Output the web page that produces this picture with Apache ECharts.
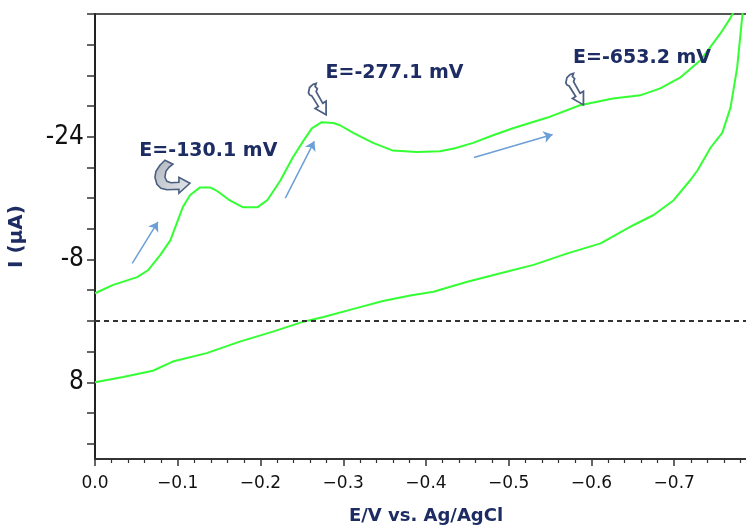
<!DOCTYPE html>
<html><head><meta charset="utf-8">
<script src="https://cdn.jsdelivr.net/npm/echarts@6/dist/echarts.min.js"></script>
<style>html,body{margin:0;padding:0;background:#fff}#c{width:746px;height:532px}</style>
</head><body><div id="c"></div>
<script>
// Forward scan (upper branch), E in V, I in µA
const forwardE = [0.000,-0.022,-0.051,-0.064,-0.079,-0.091,-0.106,-0.115,-0.127,-0.139,-0.148,-0.163,-0.179,-0.196,-0.208,-0.224,-0.239,-0.252,-0.262,-0.274,-0.288,-0.296,-0.312,-0.336,-0.360,-0.389,-0.417,-0.435,-0.457,-0.481,-0.505,-0.547,-0.586,-0.626,-0.659,-0.683,-0.707,-0.732,-0.756,-0.768,-0.786];
const forwardI = [-3.6,-4.7,-5.7,-6.6,-8.6,-10.5,-14.8,-16.4,-17.4,-17.4,-16.9,-15.7,-14.8,-14.8,-15.7,-18.3,-21.3,-23.5,-25.1,-25.9,-25.8,-25.5,-24.5,-23.2,-22.2,-22.0,-22.1,-22.5,-23.2,-24.2,-25.1,-26.5,-28.1,-29.0,-29.4,-30.3,-31.7,-34.0,-37.5,-39.5,-43.1];
// Reverse scan (lower branch)
const reverseE = [-0.782,-0.776,-0.768,-0.758,-0.744,-0.728,-0.719,-0.699,-0.675,-0.651,-0.611,-0.571,-0.530,-0.490,-0.450,-0.409,-0.381,-0.348,-0.317,-0.276,-0.252,-0.215,-0.175,-0.135,-0.094,-0.070,-0.034,0.000];
const reverseI = [-39.5,-33.0,-27.8,-24.5,-22.6,-19.6,-18.3,-15.7,-13.8,-12.5,-10.1,-8.8,-7.3,-6.2,-5.1,-3.8,-3.3,-2.6,-1.7,-0.5,0.1,1.4,2.7,4.2,5.3,6.5,7.3,8.0];

const yTickValues = [-40,-36,-32,-28,-24,-20,-16,-12,-8,-4,0,4,8,12,16];
const yLabelValues = [-24,-8,8];

const annotationTexts = ['E=-130.1 mV','E=-277.1 mV','E=-653.2 mV'];
const annotationE = [-0.137,-0.362,-0.661];
const annotationI = [-22.2,-32.3,-34.2];

const arrowStartE = [-0.045,-0.230,-0.458];
const arrowStartI = [-7.5,-16.0,-21.3];
const arrowEndE = [-0.076,-0.265,-0.553];
const arrowEndI = [-12.9,-23.4,-24.3];

const curvedAnchorE = [-0.070,-0.254,-0.565];
const curvedAnchorI = [-21.2,-31.1,-32.4];

const cvData = [];
forwardE.forEach((e,i)=>cvData.push([e,forwardI[i]]));
reverseE.forEach((e,i)=>cvData.push([e,reverseI[i]]));

const navy = '#1d2c63';
const chart = echarts.init(document.getElementById('c'));
chart.setOption({
  animation:false,
  backgroundColor:'#fff',
  grid:{left:95,top:14,right:-11,bottom:73,show:true,borderColor:'#555',borderWidth:2,
        containLabel:false,outerBoundsMode:'none'},
  xAxis:{
    type:'value',min:-0.8,max:0,interval:0.1,inverse:true,
    name:'E/V vs. Ag/AgCl',nameLocation:'middle',nameGap:48,
    nameTextStyle:{color:navy,fontFamily:'DejaVu Sans',fontWeight:'bold',fontSize:18},
    axisLine:{onZero:false,lineStyle:{color:'#333',width:2}},
    axisTick:{length:7,lineStyle:{color:'#333',width:1.5}},
    minorTick:{show:true,splitNumber:5,length:4,lineStyle:{color:'#333',width:1.2}},
    splitLine:{show:false},
    axisLabel:{margin:16,color:'#111',fontFamily:'DejaVu Sans',fontSize:17,
      formatter:v=>{ if(v<-0.75) return ''; if(Math.abs(v)<1e-9) return '0.0'; return '\u2212'+Math.abs(v).toFixed(1);}}
  },
  yAxis:{
    type:'value',min:-40,max:18,inverse:true,
    name:'I (\u03bcA)',nameLocation:'middle',nameGap:68,nameRotate:90,
    nameTextStyle:{color:navy,fontFamily:'DejaVu Sans',fontWeight:'bold',fontSize:20},
    axisLine:{onZero:false,lineStyle:{color:'#222',width:2}},
    axisTick:{length:8,customValues:yTickValues,lineStyle:{color:'#333',width:1.5}},
    splitLine:{show:false},
    axisLabel:{customValues:yLabelValues,margin:11,color:'#111',
      fontFamily:'Liberation Sans Narrow, DejaVu Sans Condensed, Liberation Sans',fontSize:26,
      formatter:v=>String(v)}
  },
  series:[
    {type:'line',data:cvData,showSymbol:false,symbol:'none',clip:true,
     lineStyle:{color:'#33ff33',width:2},itemStyle:{color:'#33ff33'},z:3,
     markLine:{silent:true,symbol:['none','none'],label:{show:false},
       lineStyle:{color:'#333',type:[5,4],width:2},data:[{yAxis:0}]},
     markPoint:{symbol:'rect',symbolSize:1,itemStyle:{color:'rgba(0,0,0,0)'},
       label:{show:true,position:'inside',color:navy,fontFamily:'DejaVu Sans',fontWeight:'bold',fontSize:19,formatter:p=>p.name},
       data:annotationTexts.map((t,i)=>({name:t,coord:[annotationE[i],annotationI[i]]}))}
    },
    {type:'line',data:[],markLine:{silent:true,symbol:['none','arrow'],symbolSize:9,label:{show:false},
       itemStyle:{color:'#6b9fd6'},
       lineStyle:{color:'#6b9fd6',type:'solid',width:1.5},
       data:arrowStartE.map((e,i)=>[{coord:[e,arrowStartI[i]]},{coord:[arrowEndE[i],arrowEndI[i]]}])}}
  ]
});

const bigCurve = [[12,2],[7,7],[3,13],[2,19],[4,26],[8,30],[14,31.5],[26,31],[26,35],[37,25],[26,19],[26,24],[18,24.5],[14,23],[12,19],[13,13],[16,9],[20,6]];
const smallCurve = [[3,10],[4,5],[7,2],[10,1],[9,4],[11,6],[10,9],[16,20],[19,18],[19,31],[9,25],[12,23],[6,13],[4,12]];
const grayFill = {type:'linear',x:0,y:0,x2:1,y2:1,colorStops:[{offset:0,color:'#b0b6bf'},{offset:1,color:'#e6e8eb'}]};
const graphics = curvedAnchorE.map((e,i)=>{
  const p = chart.convertToPixel({gridIndex:0},[e,curvedAnchorI[i]]);
  return {type:'polygon',x:p[0],y:p[1],z:10,scaleX:i===0?1:1.1,scaleY:i===0?1:1.05,
    shape:{points:i===0?bigCurve:smallCurve},
    style:{fill:i===0?grayFill:'#fff',stroke:'#4b5f80',lineWidth:1.6}};
});
chart.setOption({graphic:graphics});
</script></body></html>
